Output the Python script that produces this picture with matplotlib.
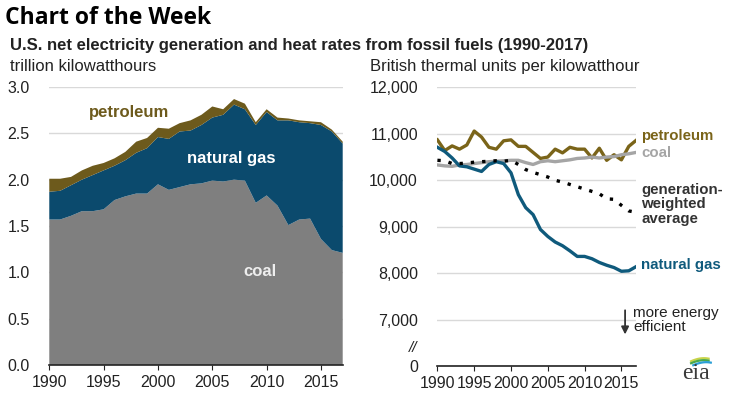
import numpy as np
import matplotlib
matplotlib.use("Agg")
import matplotlib.pyplot as plt

years = list(range(1990, 2018))

# left panel: net generation, trillion kWh
gen_coal = [1.57, 1.57, 1.61, 1.66, 1.66, 1.68, 1.78, 1.82, 1.85, 1.85,
            1.95, 1.89, 1.92, 1.95, 1.96, 1.99, 1.98, 2.00, 1.99, 1.75,
            1.83, 1.72, 1.51, 1.57, 1.58, 1.36, 1.24, 1.21]
gen_gas = [0.30, 0.31, 0.33, 0.34, 0.39, 0.42, 0.37, 0.39, 0.44, 0.49,
           0.51, 0.55, 0.60, 0.58, 0.63, 0.68, 0.72, 0.81, 0.77, 0.84,
           0.90, 0.92, 1.13, 1.05, 1.03, 1.23, 1.28, 1.18]
gen_pet = [0.14, 0.13, 0.09, 0.10, 0.10, 0.08, 0.08, 0.09, 0.12, 0.11,
           0.10, 0.11, 0.09, 0.11, 0.11, 0.12, 0.06, 0.06, 0.06, 0.03,
           0.03, 0.03, 0.02, 0.02, 0.02, 0.03, 0.02, 0.02]

# right panel: heat rates, Btu per kWh
hr_pet = [10870, 10640, 10740, 10670, 10760, 11060, 10930, 10710, 10670, 10850,
          10870, 10730, 10730, 10600, 10470, 10500, 10670, 10590, 10710, 10670,
          10670, 10480, 10690, 10430, 10550, 10440, 10730, 10860]
hr_coal = [10330, 10310, 10300, 10330, 10340, 10360, 10380, 10400, 10410, 10420,
           10430, 10430, 10380, 10340, 10400, 10420, 10400, 10420, 10440, 10470,
           10480, 10500, 10480, 10500, 10510, 10550, 10570, 10600]
hr_gas = [10710, 10620, 10480, 10310, 10290, 10240, 10190, 10340, 10400, 10360,
          10160, 9690, 9410, 9260, 8940, 8790, 8670, 8590, 8480, 8360,
          8360, 8310, 8230, 8170, 8120, 8040, 8050, 8140]
hr_avg = [10430, 10420, 10360, 10360, 10370, 10390, 10400, 10410, 10420, 10410,
          10430, 10340, 10230, 10170, 10120, 10070, 10000, 9960, 9910, 9860,
          9810, 9760, 9710, 9600, 9590, 9460, 9340, 9310]

c_coal = "#7f7f7f"
c_gas = "#0b4a6d"
c_pet = "#6d5a1c"

plt.rcParams["font.family"] = ["Liberation Sans", "DejaVu Sans"]

fig = plt.figure(figsize=(7.29, 3.98), dpi=100)

fig.text(0.007, 0.985, "Chart of the Week", fontsize=16.5, fontweight="bold",
         family=["Open Sans", "DejaVu Sans"], va="top", ha="left")
fig.text(0.014, 0.905, "U.S. net electricity generation and heat rates from fossil fuels (1990-2017)",
         fontsize=12, fontweight="bold", va="top", ha="left", color="#222222")
fig.text(0.014, 0.853, "trillion kilowatthours", fontsize=12, va="top", ha="left", color="#222222")
fig.text(0.508, 0.853, "British thermal units per kilowatthour", fontsize=12,
         va="top", ha="left", color="#222222")

# ---- left panel
ax1 = fig.add_axes([0.0676, 0.0829, 0.4025, 0.6985])
ax1.stackplot(years, gen_coal, gen_gas, gen_pet, colors=[c_coal, c_gas, c_pet], lw=0, zorder=2)
ax1.set_xlim(1990, 2017)
ax1.set_ylim(0, 3.0)
ax1.set_yticks(np.arange(0, 3.01, 0.5))
ax1.set_yticklabels(["%.1f" % v for v in np.arange(0, 3.01, 0.5)])
ax1.set_xticks(range(1990, 2016, 5))
ax1.grid(axis="y", color="#d9d9d9", lw=1, zorder=0)
ax1.text(1997.3, 2.72, "petroleum", color=c_pet, fontsize=12, fontweight="bold", ha="center", va="center")
ax1.text(2006.7, 2.23, "natural gas", color="white", fontsize=12, fontweight="bold", ha="center", va="center")
ax1.text(2009.4, 1.01, "coal", color="#eeeeee", fontsize=12, fontweight="bold", ha="center", va="center")

# ---- right panel
ax2 = fig.add_axes([0.600, 0.0804, 0.2726, 0.700])
ax2.plot(years, hr_pet, color="#7a6419", lw=2.4)
ax2.plot(years, hr_coal, color="#a5a5a5", lw=2.4)
ax2.plot(years, hr_gas, color="#0f5a7c", lw=2.4)
ax2.plot(years, hr_avg, color="black", lw=2.4, ls=(0, (1, 2.4)))
ax2.set_xlim(1990, 2017)
ax2.set_ylim(6000, 12000)
ax2.set_yticks([6000, 7000, 8000, 9000, 10000, 11000, 12000])
ax2.set_yticklabels(["0", "7,000", "8,000", "9,000", "10,000", "11,000", "12,000"])
ax2.set_xticks(range(1990, 2016, 5))
ax2.grid(axis="y", color="#d9d9d9", lw=1, zorder=0)
ax2.text(1986.7, 6380, "//", fontsize=11, style="italic", ha="center", va="center", color="#222222")
tx = 2017.7
ax2.text(tx, 10960, "petroleum", color="#7a6419", fontsize=10.8, fontweight="bold", va="center")
ax2.text(tx, 10590, "coal", color="#a5a5a5", fontsize=10.8, fontweight="bold", va="center")
ax2.text(tx, 9480, "generation-\nweighted\naverage", color="#333333", fontsize=10.8,
         fontweight="bold", va="center", linespacing=1.05)
ax2.text(tx, 8180, "natural gas", color="#0f5a7c", fontsize=10.8, fontweight="bold", va="center")
ax2.text(2016.6, 6990, "more energy\nefficient", color="#222222", fontsize=11,
         va="center", ha="left", linespacing=0.95)
ax2.annotate("", xy=(2015.5, 6620), xytext=(2015.5, 7260),
             arrowprops=dict(arrowstyle="-|>", color="#333333", lw=1.3, mutation_scale=11),
             annotation_clip=False)

for ax in (ax1, ax2):
    for s in ("top", "right", "left"):
        ax.spines[s].set_visible(False)
    ax.spines["bottom"].set_color("#222222")
    ax.spines["bottom"].set_linewidth(1.2)
    ax.spines["bottom"].set_zorder(5)
    ax.tick_params(axis="y", length=0, pad=14, labelsize=11.5, labelcolor="#222222")
    ax.tick_params(axis="x", length=3.5, direction="out", pad=4, labelsize=11.5,
                   labelcolor="#222222", color="#222222")
    ax.set_axisbelow(True)

# eia logo stand-in
fig.text(0.955, 0.035, "eia", fontsize=17, family=["Liberation Serif", "DejaVu Serif"],
         color="#3a3a3a", ha="center", va="bottom")
lg = fig.add_axes([0.942, 0.075, 0.036, 0.03])
t = np.linspace(0.2, 1.0, 30)
lg.plot(t, 0.3 + 0.5 * np.sin(t * 2.0), color="#c8d44a", lw=1.6)
lg.plot(t, 0.1 + 0.5 * np.sin(t * 2.0), color="#49a84a", lw=1.6)
lg.plot(t + 0.1, -0.1 + 0.5 * np.sin(t * 2.0), color="#2a9fd6", lw=1.6)
lg.set_xlim(0, 1.2)
lg.set_ylim(-0.2, 1)
lg.axis("off")

fig.savefig("out.png", dpi=100)
